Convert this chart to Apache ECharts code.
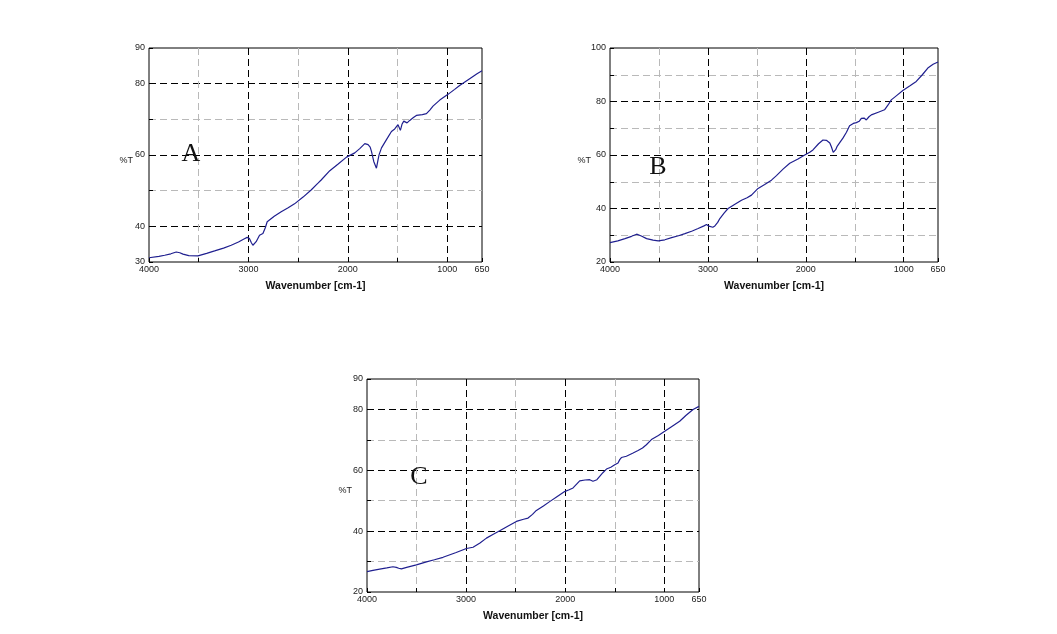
<!DOCTYPE html>
<html>
<head>
<meta charset="utf-8">
<script src="https://cdn.jsdelivr.net/npm/echarts@6/dist/echarts.min.js"></script>
<style>
html,body{margin:0;padding:0;background:#fff;}
#chart{width:1057px;height:634px;}
</style>
</head>
<body>
<div id="chart"></div>
<script>
// ---- Data (wavenumber cm-1, %T) ----
var wnA = [4000,3900,3842,3780,3726,3690,3658,3600,3508,3420,3340,3250,3173,3100,3040,3012,2990,2970,2955,2935,2922,2888,2854,2830,2811,2740,2670,2600,2536,2450,2369,2300,2268,2181,2100,2013,1930,1880,1829,1796,1775,1762,1739,1712,1695,1685,1661,1611,1561,1528,1495,1471,1455,1437,1404,1377,1340,1310,1250,1209,1175,1143,1075,992,925,875,774,700,650];
var tA  = [31.2,31.6,31.9,32.3,32.8,32.6,32.2,31.8,31.7,32.4,33.1,33.9,34.7,35.6,36.5,36.9,36.6,35.4,34.7,35.0,35.7,37.5,38.0,39.6,41.3,42.8,44.1,45.2,46.3,48.2,50.2,52.1,53.0,55.6,57.4,59.4,60.6,61.8,63.2,62.9,62.2,61.0,58.2,56.3,58.8,60.1,62.0,64.3,66.6,67.3,68.5,66.9,68.6,69.5,69.0,69.7,70.5,71.1,71.3,71.6,72.6,73.7,75.4,77.0,78.4,79.5,81.4,82.8,83.6];

var wnB = [4000,3920,3847,3780,3728,3680,3626,3560,3507,3440,3371,3300,3235,3160,3100,3040,3014,2990,2970,2950,2929,2900,2878,2835,2794,2720,2657,2600,2555,2488,2420,2351,2300,2230,2164,2080,2011,1960,1927,1870,1825,1790,1774,1755,1739,1720,1712,1695,1682,1650,1621,1585,1553,1515,1484,1455,1433,1405,1382,1355,1331,1260,1196,1160,1127,1070,1009,940,872,810,754,700,650];
var tB  = [27.25,27.9,28.75,29.6,30.4,29.7,28.75,28.2,27.9,28.3,29.1,29.8,30.6,31.6,32.5,33.5,34.0,33.4,32.9,33.0,33.5,34.8,36.25,38.3,40.0,41.7,43.1,44.0,45.0,47.5,49.0,50.6,52.3,54.8,56.9,58.5,60.0,61.0,61.9,64.2,65.6,65.5,65.4,64.5,63.1,61.0,60.6,62.0,63.1,64.8,66.3,68.5,70.9,71.8,72.1,72.6,73.7,73.8,73.1,74.3,75.0,76.0,76.9,78.7,80.6,82.3,84.1,85.8,87.5,90.0,92.5,93.9,94.75];

var wnC = [4000,3940,3872,3800,3738,3704,3680,3653,3600,3502,3400,3320,3233,3100,2997,2930,2860,2795,2730,2661,2580,2493,2420,2375,2358,2330,2291,2220,2157,2080,2006,1960,1921,1880,1854,1800,1753,1720,1702,1680,1652,1620,1584,1540,1500,1467,1450,1433,1383,1320,1265,1220,1181,1130,1060,996,920,845,780,710,650];
var tC  = [26.7,27.1,27.5,27.9,28.3,28.1,27.8,27.6,28.1,28.9,29.9,30.6,31.4,33.0,34.3,34.7,36.1,37.7,38.9,40.1,41.6,43.2,43.9,44.3,43.8,45.5,46.8,48.3,49.7,51.4,53.0,53.6,54.2,55.6,56.5,56.8,56.9,56.4,55.8,56.9,58.0,59.2,60.4,61.0,61.8,62.4,63.5,64.2,64.6,65.6,66.5,67.3,68.4,70.1,71.4,72.8,74.5,76.1,78.1,80.0,81.0];

var panelLetters = ['A','B','C'];
var yRanges = [[30,90],[20,100],[20,90]];
var xRange = [650,4000];
var xLabelValues = [4000,3000,2000,1000,650];
var xTitle = 'Wavenumber [cm-1]';
var yTitle = '%T';

// ---- Layout ----
var grids = [
  {left:149, top:48, width:333, height:214},
  {left:610, top:48, width:328, height:214},
  {left:367, top:379, width:332, height:213}
];
var letterPos = [[191,154],[658,167],[419,477]];
var yTitlePos = [[133,161],[591,161],[352,491]];

var series = [[wnA,tA],[wnB,tB],[wnC,tC]];
var BLACK = '#000';
var GRAY = '#b9b9b9';
var labelColor = '#222';

var option = {
  backgroundColor:'#fff',
  animation:false,
  grid:[], xAxis:[], yAxis:[], series:[], graphic:[]
};

series.forEach(function(s, i){
  var g = grids[i];
  option.grid.push({left:g.left, top:g.top, width:g.width, height:g.height,
    show:true, borderColor:'#000', borderWidth:1, backgroundColor:'transparent', containLabel:false});
  // x axis in negated wavenumber so 4000 is at left
  option.xAxis.push({
    type:'value', gridIndex:i, min:-xRange[1], max:-xRange[0], interval:500,
    axisLine:{show:false},
    axisTick:{show:true, inside:true, length:4, lineStyle:{color:'#000'}},
    axisLabel:{color:labelColor, fontSize:9, fontFamily:'Liberation Sans, Arial', margin:3,
      showMinLabel:true, showMaxLabel:true,
      formatter:function(v){ return xLabelValues.indexOf(-v) >= 0 ? String(-v) : ''; }},
    splitLine:{show:true, showMinLine:false, showMaxLine:false,
      lineStyle:{color:[GRAY, BLACK], type:[7,4], width:1}},
    name:xTitle, nameLocation:'middle', nameGap:19,
    nameTextStyle:{color:'#111', fontSize:10.5, fontWeight:'bold', fontFamily:'Liberation Sans, Arial'}
  });
  var yr = yRanges[i];
  var startGray = ((yr[0] + 10) % 20 !== 0); // first interior line colour
  option.yAxis.push({
    type:'value', gridIndex:i, min:yr[0], max:yr[1], interval:10,
    axisLine:{show:false},
    axisTick:{show:true, inside:true, length:4, lineStyle:{color:'#000'}},
    axisLabel:{color:labelColor, fontSize:9, fontFamily:'Liberation Sans, Arial', margin:4,
      showMinLabel:true, showMaxLabel:true,
      formatter:(function(mn,mx){ return function(v){ return (v===mn||v===mx||v%20===0) ? String(v) : ''; }; })(yr[0],yr[1])},
    splitLine:{show:true, showMinLine:false, showMaxLine:false,
      lineStyle:{color: startGray ? [GRAY, BLACK] : [BLACK, GRAY], type:[7,4], width:1}}
  });
  var data = s[0].map(function(w, k){ return [-w, s[1][k]]; });
  option.series.push({
    type:'line', xAxisIndex:i, yAxisIndex:i, data:data, showSymbol:false, symbol:'none',
    lineStyle:{color:'#1f1f8f', width:1.2}, smooth:false, z:5
  });
  option.graphic.push({
    type:'text', x:letterPos[i][0], y:letterPos[i][1], z:10,
    style:{text:panelLetters[i], fill:'#111', font:'26px "Liberation Serif", "DejaVu Serif", serif', align:'center', verticalAlign:'middle'}
  });
  option.graphic.push({
    type:'text', x:yTitlePos[i][0], y:yTitlePos[i][1], z:10,
    style:{text:yTitle, fill:'#222', font:'9px "Liberation Sans", Arial, sans-serif', align:'right', verticalAlign:'middle'}
  });
});

var chart = echarts.init(document.getElementById('chart'), null, {renderer:'canvas'});
chart.setOption(option);
</script>
</body>
</html>
